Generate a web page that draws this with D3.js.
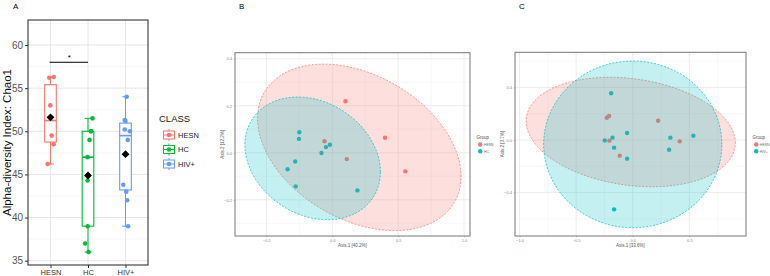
<!DOCTYPE html>
<html>
<head>
<meta charset="utf-8">
<script src="https://cdn.jsdelivr.net/npm/d3@7"></script>
<style>
  body { margin: 0; background: #fff; }
  text { font-family: "Liberation Sans", Arial, sans-serif; }
</style>
</head>
<body>
<div id="chart"></div>
<script>
// ---- panel A data : Chao1 per class
var categories = ["HESN", "HC", "HIV+"],
    hesnChao1 = [56.2, 56.3, 53.0, 49.5, 48.5, 46.2],
    hcChao1 = [51.5, 50.0, 50.0, 49.0, 47.0, 44.3, 39.0, 37.0, 36.0],
    hivChao1 = [54.0, 51.3, 51.2, 50.2, 50.0, 49.0, 43.8, 43.0, 42.0, 39.0],
    // horizontal jitter, in category units
    hesnJitter = [-0.03, 0.09, -0.005, 0.03, 0.085, -0.075],
    hcJitter = [0.12, 0.08, 0.08, 0.04, -0.01, -0.01, -0.01, -0.075, 0.015],
    hivJitter = [0.03, -0.02, 0, -0.02, 0.115, 0.06, -0.06, 0.02, 0.045, 0.07],
    chaoTicks = [35, 40, 45, 50, 55, 60],
    classColors = ["#F8766D", "#00BA38", "#619CFF"];

// ---- panel B data : PCoA HESN vs HC
var bHesnX = [0.10, 0.40, 0.554, -0.059, 0.11],
    bHesnY = [0.219, 0.064, -0.079, 0.049, -0.027],
    bHcX = [-0.25, -0.253, -0.048, -0.018, -0.082, -0.281, -0.339, -0.278, 0.191],
    bHcY = [0.087, 0.059, 0.024, 0.034, -0.001, -0.037, -0.07, -0.143, -0.16],
    bXTicks = [-0.5, 0, 0.5, 1.0],
    bYTicks = [-0.2, 0, 0.2, 0.4];

// ---- panel C data : PCoA HESN vs HIV+
var cHesnX = [-0.229, -0.209, -0.206, -0.115, 0.224, 0.415],
    cHesnY = [0.170, 0.183, -0.005, -0.119, 0.147, -0.010],
    cHivX = [-0.191, -0.247, -0.179, -0.165, -0.05, -0.05, 0.332, 0.321, 0.535, -0.165],
    cHivY = [0.356, -0.003, 0.018, -0.058, 0.053, -0.142, 0.018, -0.074, 0.033, -0.528],
    cXTicks = [-1.0, -0.5, 0, 0.5],
    cYTicks = [-0.4, 0, 0.4];

// ellipses: centre, spread and correlation
var bEllipses = [{cx: 0.205, cy: 0.023, sx: 0.772, sy: 0.354, r: -0.35},
                 {cx: -0.149, cy: -0.024, sx: 0.514, sy: 0.261, r: -0.22}],
    cEllipses = [{cx: -0.018, cy: 0.061, sx: 0.924, sy: 0.417, r: -0.2},
                 {cx: 0.0, cy: -0.033, sx: 0.787, sy: 0.635, r: 0.0}];

var groupColors = ["#F8766D", "#00BFC4"];

var svg = d3.select("#chart").append("svg")
    .attr("width", 770)
    .attr("height", 276);

svg.append("rect").attr("width", 770).attr("height", 276).attr("fill", "#fff");

// ================= panel A =================
var A = {left: 28, right: 148, top: 20, bottom: 265};

var x = d3.scalePoint()
    .domain(categories)
    .range([A.left, A.right])
    .padding(0.6);

var y = d3.scaleLinear()
    .domain([34.5, 62.9])
    .range([A.bottom, A.top]);

var gA = svg.append("g");

// grid
var minor = chaoTicks.map(d => d + 2.5).concat([32.5]).filter(d => d > 34.5 && d < 62.9);
gA.selectAll(".minor").data(minor).enter().append("line")
    .attr("x1", A.left).attr("x2", A.right)
    .attr("y1", d => y(d)).attr("y2", d => y(d))
    .attr("stroke", "#f2f2f2").attr("stroke-width", 0.6);
gA.selectAll(".major").data(chaoTicks).enter().append("line")
    .attr("x1", A.left).attr("x2", A.right)
    .attr("y1", d => y(d)).attr("y2", d => y(d))
    .attr("stroke", "#e6e6e6").attr("stroke-width", 1);
gA.selectAll(".vgrid").data(categories).enter().append("line")
    .attr("x1", d => x(d)).attr("x2", d => x(d))
    .attr("y1", A.top).attr("y2", A.bottom)
    .attr("stroke", "#e6e6e6").attr("stroke-width", 1);

// axes
var yAxis = gA.append("g")
    .attr("transform", "translate(" + A.left + ",0)")
    .call(d3.axisLeft(y).tickValues(chaoTicks).tickSize(3).tickPadding(2));
yAxis.select(".domain").remove();
yAxis.selectAll("text").attr("fill", "#555").style("font-size", "10px");
yAxis.selectAll("line").attr("stroke", "#333");

var xAxis = gA.append("g")
    .attr("transform", "translate(0," + A.bottom + ")")
    .call(d3.axisBottom(x).tickSize(3).tickPadding(2));
xAxis.select(".domain").remove();
xAxis.selectAll("text").attr("fill", "#333").style("font-size", "7.5px");
xAxis.selectAll("line").attr("stroke", "#333");

var groups = [hesnChao1, hcChao1, hivChao1],
    jitters = [hesnJitter, hcJitter, hivJitter];

var step = x.step(),
    boxW = 0.31 * step,
    capW = 0.18 * step;

groups.forEach(function (vals, i) {
    var s = vals.slice().sort(d3.ascending),
        q1 = d3.quantile(s, 0.25),
        med = d3.quantile(s, 0.5),
        q3 = d3.quantile(s, 0.75),
        lo = d3.min(s), hi = d3.max(s),
        cx = x(categories[i]),
        col = classColors[i],
        g = gA.append("g");

    g.append("line").attr("x1", cx).attr("x2", cx)
        .attr("y1", y(hi)).attr("y2", y(q3)).attr("stroke", col).attr("stroke-width", 1);
    g.append("line").attr("x1", cx).attr("x2", cx)
        .attr("y1", y(q1)).attr("y2", y(lo)).attr("stroke", col).attr("stroke-width", 1);
    [lo, hi].forEach(function (v) {
        g.append("line").attr("x1", cx - capW / 2).attr("x2", cx + capW / 2)
            .attr("y1", y(v)).attr("y2", y(v)).attr("stroke", col).attr("stroke-width", 1);
    });
    g.append("rect")
        .attr("x", cx - boxW / 2).attr("width", boxW)
        .attr("y", y(q3)).attr("height", y(q1) - y(q3))
        .attr("fill", "#fff").attr("stroke", col).attr("stroke-width", 1.1);
    g.append("line").attr("x1", cx - boxW / 2).attr("x2", cx + boxW / 2)
        .attr("y1", y(med)).attr("y2", y(med)).attr("stroke", col).attr("stroke-width", 1.6);

    g.selectAll("circle").data(vals).enter().append("circle")
        .attr("cx", (d, j) => cx + jitters[i][j] * step)
        .attr("cy", d => y(d))
        .attr("r", 2.3)
        .attr("fill", col);

    var m = d3.mean(vals);
    g.append("path")
        .attr("d", d3.symbol().type(d3.symbolDiamond2).size(40))
        .attr("transform", "translate(" + cx + "," + y(m) + ")")
        .attr("fill", "#000");
});

// significance bar HESN vs HC
gA.append("line")
    .attr("x1", x("HESN") - 1).attr("x2", x("HC"))
    .attr("y1", y(58)).attr("y2", y(58))
    .attr("stroke", "#000").attr("stroke-width", 1);
gA.append("text")
    .attr("x", (x("HESN") + x("HC")) / 2).attr("y", y(58) - 2)
    .attr("text-anchor", "middle").style("font-size", "8px").text("*");

gA.append("rect")
    .attr("x", A.left).attr("y", A.top)
    .attr("width", A.right - A.left).attr("height", A.bottom - A.top)
    .attr("fill", "none").attr("stroke", "#222").attr("stroke-width", 1);

gA.append("text")
    .attr("transform", "translate(11," + (A.top + A.bottom) / 2 + ") rotate(-90)")
    .attr("text-anchor", "middle")
    .style("font-size", "11.5px").attr("fill", "#111")
    .text("Alpha-diversity Index: Chao1");

svg.append("text").attr("x", 13).attr("y", 9).style("font-size", "8px").text("A");

// legend A
var legA = svg.append("g").attr("transform", "translate(159,0)");
legA.append("text").attr("x", 0).attr("y", 122).style("font-size", "9.5px").attr("fill", "#222").text("CLASS");
categories.forEach(function (c, i) {
    var ky = 135 + i * 14.5, kx = 10, col = classColors[i];
    legA.append("line").attr("x1", kx).attr("x2", kx).attr("y1", ky - 6).attr("y2", ky + 6)
        .attr("stroke", col);
    legA.append("rect").attr("x", kx - 5.5).attr("y", ky - 4).attr("width", 11).attr("height", 8)
        .attr("fill", "#fff").attr("stroke", col);
    legA.append("line").attr("x1", kx - 5.5).attr("x2", kx + 5.5).attr("y1", ky).attr("y2", ky)
        .attr("stroke", col);
    legA.append("circle").attr("cx", kx).attr("cy", ky).attr("r", 2.3).attr("fill", col);
    legA.append("text").attr("x", 19).attr("y", ky + 2.6).style("font-size", "7.5px")
        .attr("fill", "#222").text(c);
});

// ================= PCoA panels =================
function pcoa(opt) {
    var g = svg.append("g");
    var px = d3.scaleLinear().domain(opt.xDomain).range([opt.left, opt.right]);
    var py = d3.scaleLinear().domain(opt.yDomain).range([opt.bottom, opt.top]);

    var xMinor = opt.xTicks.map(d => d + opt.xStep / 2).concat([opt.xTicks[0] - opt.xStep / 2])
        .filter(d => d > opt.xDomain[0] && d < opt.xDomain[1]);
    var yMinor = opt.yTicks.map(d => d + opt.yStep / 2).concat([opt.yTicks[0] - opt.yStep / 2])
        .filter(d => d > opt.yDomain[0] && d < opt.yDomain[1]);

    g.selectAll(".xm").data(xMinor).enter().append("line")
        .attr("x1", d => px(d)).attr("x2", d => px(d)).attr("y1", opt.top).attr("y2", opt.bottom)
        .attr("stroke", "#f3f3f3").attr("stroke-width", 0.6);
    g.selectAll(".ym").data(yMinor).enter().append("line")
        .attr("y1", d => py(d)).attr("y2", d => py(d)).attr("x1", opt.left).attr("x2", opt.right)
        .attr("stroke", "#f3f3f3").attr("stroke-width", 0.6);
    g.selectAll(".xg").data(opt.xTicks).enter().append("line")
        .attr("x1", d => px(d)).attr("x2", d => px(d)).attr("y1", opt.top).attr("y2", opt.bottom)
        .attr("stroke", "#e8e8e8").attr("stroke-width", 0.8);
    g.selectAll(".yg").data(opt.yTicks).enter().append("line")
        .attr("y1", d => py(d)).attr("y2", d => py(d)).attr("x1", opt.left).attr("x2", opt.right)
        .attr("stroke", "#e8e8e8").attr("stroke-width", 0.8);

    var xa = g.append("g").attr("transform", "translate(0," + opt.bottom + ")")
        .call(d3.axisBottom(px).tickValues(opt.xTicks).tickFormat(d3.format(".1f")).tickSize(1.5).tickPadding(1.5));
    var ya = g.append("g").attr("transform", "translate(" + opt.left + ",0)")
        .call(d3.axisLeft(py).tickValues(opt.yTicks).tickFormat(d3.format(".1f")).tickSize(1.5).tickPadding(1.5));
    [xa, ya].forEach(function (a) {
        a.select(".domain").remove();
        a.selectAll("line").attr("stroke", "#999").attr("stroke-width", 0.5);
        a.selectAll("text").attr("fill", "#888").style("font-size", "4px");
    });

    // points first, ellipses drawn over them
    opt.series.forEach(function (s, i) {
        g.selectAll(".p" + i).data(s.x).enter().append("circle")
            .attr("cx", d => px(d))
            .attr("cy", (d, j) => py(s.y[j]))
            .attr("r", 2.2)
            .attr("fill", groupColors[i]);
    });

    var line = d3.line().x(d => px(d[0])).y(d => py(d[1])).curve(d3.curveLinearClosed);
    opt.ellipses.forEach(function (e, i) {
        var pts = d3.range(0, 120).map(function (k) {
            var t = k / 120 * 2 * Math.PI;
            return [e.cx + e.sx * Math.cos(t),
                    e.cy + e.sy * (e.r * Math.cos(t) + Math.sqrt(1 - e.r * e.r) * Math.sin(t))];
        });
        g.append("path").attr("d", line(pts))
            .attr("fill", groupColors[i]).attr("fill-opacity", 0.23)
            .attr("stroke", groupColors[i]).attr("stroke-width", 0.7)
            .attr("stroke-dasharray", "2,1.5");
    });

    g.append("rect")
        .attr("x", opt.left).attr("y", opt.top)
        .attr("width", opt.right - opt.left).attr("height", opt.bottom - opt.top)
        .attr("fill", "none").attr("stroke", "#777").attr("stroke-width", 1);

    g.append("text")
        .attr("x", (opt.left + opt.right) / 2).attr("y", opt.bottom + 11)
        .attr("text-anchor", "middle").style("font-size", "4.5px").attr("fill", "#555")
        .text(opt.xTitle);
    g.append("text")
        .attr("transform", "translate(" + (opt.left - 11) + "," + (opt.top + opt.bottom) / 2 + ") rotate(-90)")
        .attr("text-anchor", "middle").style("font-size", "4.5px").attr("fill", "#555")
        .text(opt.yTitle);

    g.append("text").attr("x", opt.right + 6.5).attr("y", 138.5)
        .style("font-size", "4.5px").attr("fill", "#555").text("Group");
    opt.labels.forEach(function (lab, i) {
        g.append("circle").attr("cx", opt.right + 10.2).attr("cy", 144.5 + i * 6.8)
            .attr("r", 2.2).attr("fill", groupColors[i]);
        g.append("text").attr("x", opt.right + 14).attr("y", 145.8 + i * 6.8)
            .style("font-size", "3.4px").attr("fill", "#666").text(lab);
    });

    svg.append("text").attr("x", opt.left + 4).attr("y", 9).style("font-size", "8px").text(opt.tag);
}

pcoa({
    tag: "B", left: 235, right: 470, top: 52.7, bottom: 236,
    xDomain: [-0.738, 1.045], yDomain: [-0.354, 0.4255],
    xTicks: bXTicks, yTicks: bYTicks, xStep: 0.5, yStep: 0.2,
    series: [{x: bHesnX, y: bHesnY}, {x: bHcX, y: bHcY}],
    ellipses: bEllipses,
    labels: ["HESN", "HC"],
    xTitle: "Axis.1   [40.2%]", yTitle: "Axis.2   [12.2%]"
});

pcoa({
    tag: "C", left: 515, right: 746, top: 52.3, bottom: 236,
    xDomain: [-1.04, 1.0], yDomain: [-0.731, 0.668],
    xTicks: cXTicks, yTicks: cYTicks, xStep: 0.5, yStep: 0.4,
    series: [{x: cHesnX, y: cHesnY}, {x: cHivX, y: cHivY}],
    ellipses: cEllipses,
    labels: ["HESN", "HIV+"],
    xTitle: "Axis.1   [33.6%]", yTitle: "Axis.2   [3.7%]"
});
</script>
</body>
</html>
